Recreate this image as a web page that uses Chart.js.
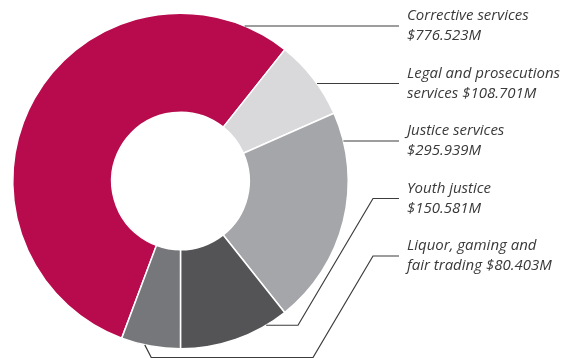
<!DOCTYPE html>
<html>
<head>
<meta charset="utf-8">
<script src="https://cdn.jsdelivr.net/npm/chart.js@4/dist/chart.umd.min.js"></script>
<style>
  html, body { margin: 0; padding: 0; background: #ffffff; }
  #wrap { width: 574px; height: 358px; position: relative; }
</style>
</head>
<body>
<div id="wrap"><canvas id="chart" width="574" height="358"></canvas></div>
<script>
// Expenditure by service area ($ million)
const categories = [
  'Corrective services',
  'Legal and prosecutions services',
  'Justice services',
  'Youth justice',
  'Liquor, gaming and fair trading'
];
const values = [776.523, 108.701, 295.939, 150.581, 80.403];
// Two-line captions shown beside the ring
const labelLines = [
  ['Corrective services', '$776.523M'],
  ['Legal and prosecutions', 'services $108.701M'],
  ['Justice services', '$295.939M'],
  ['Youth justice', '$150.581M'],
  ['Liquor, gaming and', 'fair trading $80.403M']
];
const colors = ['#b80b4d', '#d9d9db', '#a5a6a9', '#545456', '#76777a'];

// Leader lines + captions on the right-hand side
const leaderPlugin = {
  id: 'leaders',
  afterDatasetsDraw(chart) {
    const ctx = chart.ctx;
    const arcs = chart.getDatasetMeta(0).data;
    const cx = arcs[0].x, cy = arcs[0].y, R = arcs[0].outerRadius;
    const lineEnd = 399, textX = 407;
    const top = 26, step = 57.5;
    ctx.save();
    ctx.lineWidth = 1.2;
    ctx.strokeStyle = '#3c3c3c';
    ctx.lineJoin = 'miter';
    labelLines.forEach((lines, i) => {
      const y = top + i * step;
      ctx.beginPath();
      if (i < 3) {
        // horizontal leader starting on the ring's outer edge
        const dx = Math.sqrt(Math.max(R * R - (y - cy) * (y - cy), 0));
        ctx.moveTo(cx + dx, y);
        ctx.lineTo(lineEnd, y);
      } else {
        // elbowed leaders for the two lower slices
        const a = arcs[i];
        const frac = i === 3 ? 0.2 : 0.6;
        const ang = a.startAngle + (a.endAngle - a.startAngle) * frac;
        const sx = cx + Math.cos(ang) * R;
        const sy = cy + Math.sin(ang) * R;
        if (i === 3) {
          ctx.moveTo(sx, sy);
          ctx.lineTo(298, sy);
          ctx.lineTo(373, y);
          ctx.lineTo(lineEnd, y);
        } else {
          const lowY = 357.5;
          ctx.moveTo(sx, sy);
          ctx.lineTo(sx + 6.5, lowY);
          ctx.lineTo(313, lowY);
          ctx.lineTo(373, y);
          ctx.lineTo(lineEnd, y);
        }
      }
      ctx.stroke();

      ctx.fillStyle = '#3a3a3a';
      ctx.font = 'italic 15px "Open Sans"';
      ctx.textBaseline = 'middle';
      ctx.textAlign = 'left';
      ctx.fillText(lines[0], textX, y - 10);
      ctx.fillText(lines[1], textX, y + 10);
    });
    ctx.restore();
  }
};

new Chart(document.getElementById('chart'), {
  type: 'doughnut',
  data: {
    labels: categories,
    datasets: [{
      data: values,
      backgroundColor: colors,
      borderColor: '#ffffff',
      borderWidth: 1.5,
      hoverOffset: 0
    }]
  },
  options: {
    responsive: false,
    animation: false,
    rotation: -159.5,
    cutout: '41%',
    layout: { padding: { left: 12, top: 12, bottom: 8, right: 225 } },
    plugins: {
      legend: { display: false },
      tooltip: { enabled: false }
    }
  },
  plugins: [leaderPlugin]
});
</script>
</body>
</html>
